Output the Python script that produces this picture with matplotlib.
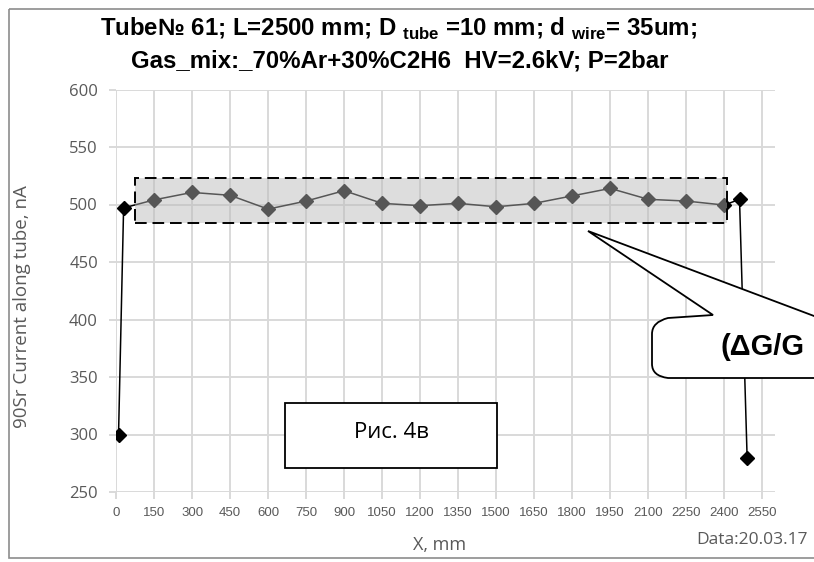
import matplotlib
matplotlib.use("Agg")
import matplotlib.pyplot as plt
from matplotlib.patches import Rectangle, PathPatch
from matplotlib.path import Path
from matplotlib.transforms import Affine2D


# Scan along the tube: position (mm) and 90Sr current (nA)
x_mm = [10, 30, 150, 300, 450, 600, 750, 900, 1050, 1200, 1350, 1500,
        1650, 1800, 1950, 2100, 2250, 2400, 2460, 2490]
current_na = [300, 497, 504, 510.5, 508, 496, 503, 512, 501, 499, 501, 498,
              501, 507.5, 514, 504.5, 503, 499.5, 504.5, 280]

x_ticks = list(range(0, 2551, 150))
y_ticks = list(range(250, 601, 50))

# plateau region highlighted on the plot
plateau_x = (75, 2410)
plateau_y = (484, 523)

TEXT_GREY = "#595959"
GRID_GREY = "#d9d9d9"
SANS = ["Liberation Sans", "DejaVu Sans"]
OPEN = ["Open Sans", "DejaVu Sans"]
W, H = 814, 562


def px_transform(fig):
    # pixel coordinates measured from the top-left corner of the figure
    return Affine2D().scale(1 / W, -1 / H).translate(0, 1) + fig.transFigure


def main():
    fig = plt.figure(figsize=(W / 100, H / 100), dpi=100)
    fig.patch.set_facecolor("white")
    ax = fig.add_axes([116 / W, 1 - 492 / H, (775 - 116) / W, (492 - 89.5) / H])

    ax.plot(x_mm, current_na, color="black", linewidth=1.1, marker="D",
            markersize=7, zorder=3)

    ax.set_xlim(0, 2600)
    ax.set_ylim(250, 600)
    ax.set_xticks(x_ticks)
    ax.set_yticks(y_ticks)
    ax.grid(True, color=GRID_GREY, linewidth=1.4, zorder=0)
    ax.set_axisbelow(True)
    for side in ax.spines.values():
        side.set_visible(False)
    ax.tick_params(axis="both", length=5, width=1.4, color=GRID_GREY)
    ax.tick_params(axis="x", labelsize=9.5, labelcolor=TEXT_GREY, pad=6)
    ax.tick_params(axis="y", labelsize=12, labelcolor=TEXT_GREY, pad=8)
    for lbl in ax.get_xticklabels():
        lbl.set_family(SANS)
    for lbl in ax.get_yticklabels():
        lbl.set_family(OPEN)

    ax.add_patch(Rectangle((plateau_x[0], plateau_y[0]),
                           plateau_x[1] - plateau_x[0],
                           plateau_y[1] - plateau_y[0],
                           facecolor="#b8b8b8", alpha=0.47, edgecolor="none",
                           zorder=4))
    ax.add_patch(Rectangle((plateau_x[0], plateau_y[0]),
                           plateau_x[1] - plateau_x[0],
                           plateau_y[1] - plateau_y[0],
                           facecolor="none", edgecolor="black", linewidth=1.4,
                           linestyle=(0, (6, 3)), zorder=5))

    tr = px_transform(fig)

    # speech-bubble callout pointing at the plateau
    verts = [
        (588, 231), (713, 315), (668, 318), (652, 322), (652, 334),
        (652, 364), (652, 376), (668, 378), (830, 378), (830, 322),
        (588, 231),
    ]
    codes = [Path.MOVETO, Path.LINETO, Path.LINETO, Path.CURVE3, Path.CURVE3,
             Path.LINETO, Path.CURVE3, Path.CURVE3, Path.LINETO, Path.LINETO,
             Path.CLOSEPOLY]
    fig.patches.append(PathPatch(Path(verts, codes), facecolor="white",
                                 edgecolor="black", linewidth=1.3,
                                 transform=tr, zorder=10))
    fig.text(721, 347, "(ΔG/G", transform=tr, fontsize=21, fontweight="bold",
             family=SANS, va="center", ha="left", zorder=11)

    # figure label box
    fig.patches.append(Rectangle((285, 403), 212, 65, facecolor="white",
                                 edgecolor="black", linewidth=1.3,
                                 transform=tr, zorder=10))
    fig.text(391, 433, "Рис. 4в", transform=tr, fontsize=16,
             family=OPEN, ha="center", va="center", zorder=11)

    # outer chart frame
    fig.patches.append(Rectangle((9, 9), 830, 549, facecolor="none",
                                 edgecolor="#8c8c8c", linewidth=1.2,
                                 transform=tr, zorder=1))

    fig.text(399, 29,
             r"Tube№ 61; L=2500 mm; D $_{\mathregular{tube}}$ =10 mm; "
             r"d $_{\mathregular{wire}}$= 35um;",
             transform=tr, fontsize=17.3, fontweight="bold", family=SANS,
             ha="center", va="center")
    fig.text(400, 61, "Gas_mix:_70%Ar+30%C2H6  HV=2.6kV; P=2bar",
             transform=tr, fontsize=17.3, fontweight="bold", family=SANS,
             ha="center", va="center")

    fig.text(22, 307, "90Sr Current along tube, nA", transform=tr,
             fontsize=13.5, color=TEXT_GREY, rotation=90, family=OPEN,
             ha="center", va="center")
    fig.text(440, 545, "X, mm", transform=tr, fontsize=13, color=TEXT_GREY,
             family=OPEN, ha="center", va="center")
    fig.text(808, 540, "Data:20.03.17", transform=tr, fontsize=12.5,
             color=TEXT_GREY, family=OPEN, ha="right", va="center")

    fig.savefig("out.png", dpi=100)
    plt.close(fig)


if __name__ == "__main__":
    main()
